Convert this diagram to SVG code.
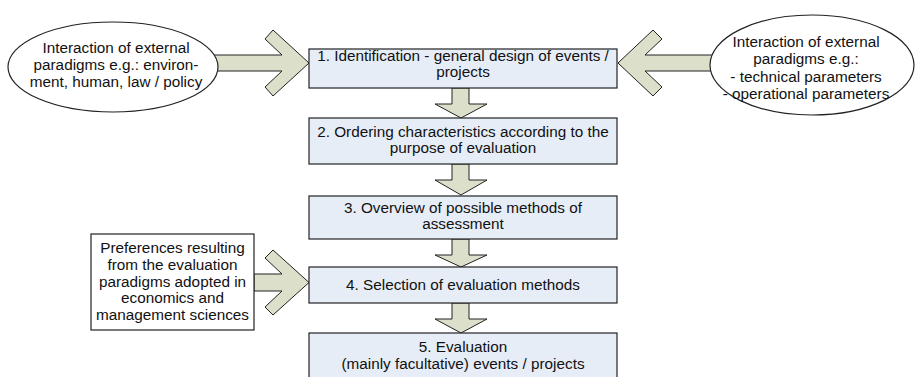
<svg xmlns="http://www.w3.org/2000/svg" width="915" height="377" viewBox="0 0 915 377">
<style>
text{font-family:"Liberation Sans",Arial,sans-serif;font-size:15.3px;fill:#111;text-anchor:middle}
.box{fill:#e6edf7;stroke:#222;stroke-width:1.2}
.wbox{fill:#fff;stroke:#222;stroke-width:1.2}
.arr{fill:#dcdfca;stroke:#222;stroke-width:1;stroke-linejoin:miter}
</style>
<rect width="915" height="377" fill="#fff"/>
<g id="connectors">
<polygon class="arr" points="205,55 282,55 265,39 273,30 309,63 273,96 265,87 282,71 205,71"/>
<polygon class="arr" points="720,55 645,55 662,39 653,30 618,63 653,96 662,87 645,71 720,71"/>
<polygon class="arr" points="254,274 282,274 265,258 273,250 309,282.5 273,315 265,307 282,291 254,291"/>
<polygon class="arr" points="452,88 469,88 469,104 487,104 461,118 435,104 452,104"/>
<polygon class="arr" points="452,164 469,164 469,180 487,180 461,195 435,180 452,180"/>
<polygon class="arr" points="452,239 469,239 469,255 487,255 461,267 435,255 452,255"/>
<polygon class="arr" points="452,303 469,303 469,319 487,319 461,333 435,319 452,319"/>
</g>
<g id="ext-left">
<ellipse class="wbox" cx="113" cy="67" rx="105" ry="45"/>
<text x="116" y="53">Interaction of external</text>
<text x="116" y="70">paradigms e.g.: environ-</text>
<text x="116" y="87">ment, human, law / policy</text>
</g>
<g id="ext-right">
<ellipse class="wbox" cx="812" cy="65" rx="102" ry="50"/>
<text x="806" y="47">Interaction of external</text>
<text x="806" y="64">paradigms e.g.:</text>
<text x="806" y="82">- technical parameters</text>
<text x="806" y="99">- operational parameters</text>
</g>
<g id="pref">
<rect class="wbox" x="91" y="234" width="163" height="96"/>
<text x="172.5" y="253">Preferences resulting</text>
<text x="172.5" y="270">from the evaluation</text>
<text x="172.5" y="287">paradigms adopted in</text>
<text x="172.5" y="303">economics and</text>
<text x="172.5" y="320">management sciences</text>
</g>
<g id="step1">
<rect class="box" x="309" y="49" width="308" height="39"/>
<text x="463" y="61">1. Identification - general design of events /</text>
<text x="463" y="77">projects</text>
</g>
<g id="step2">
<rect class="box" x="309" y="118" width="308" height="46"/>
<text x="463" y="137">2. Ordering characteristics according to the</text>
<text x="463" y="153">purpose of evaluation</text>
</g>
<g id="step3">
<rect class="box" x="309" y="196" width="308" height="43"/>
<text x="463" y="213">3. Overview of possible methods of</text>
<text x="463" y="229">assessment</text>
</g>
<g id="step4">
<rect class="box" x="309" y="267" width="308" height="36"/>
<text x="463" y="290">4. Selection of evaluation methods</text>
</g>
<g id="step5">
<rect class="box" x="309" y="333" width="308" height="60"/>
<text x="463" y="352">5. Evaluation</text>
<text x="463" y="369">(mainly facultative) events / projects</text>
</g>
</svg>
